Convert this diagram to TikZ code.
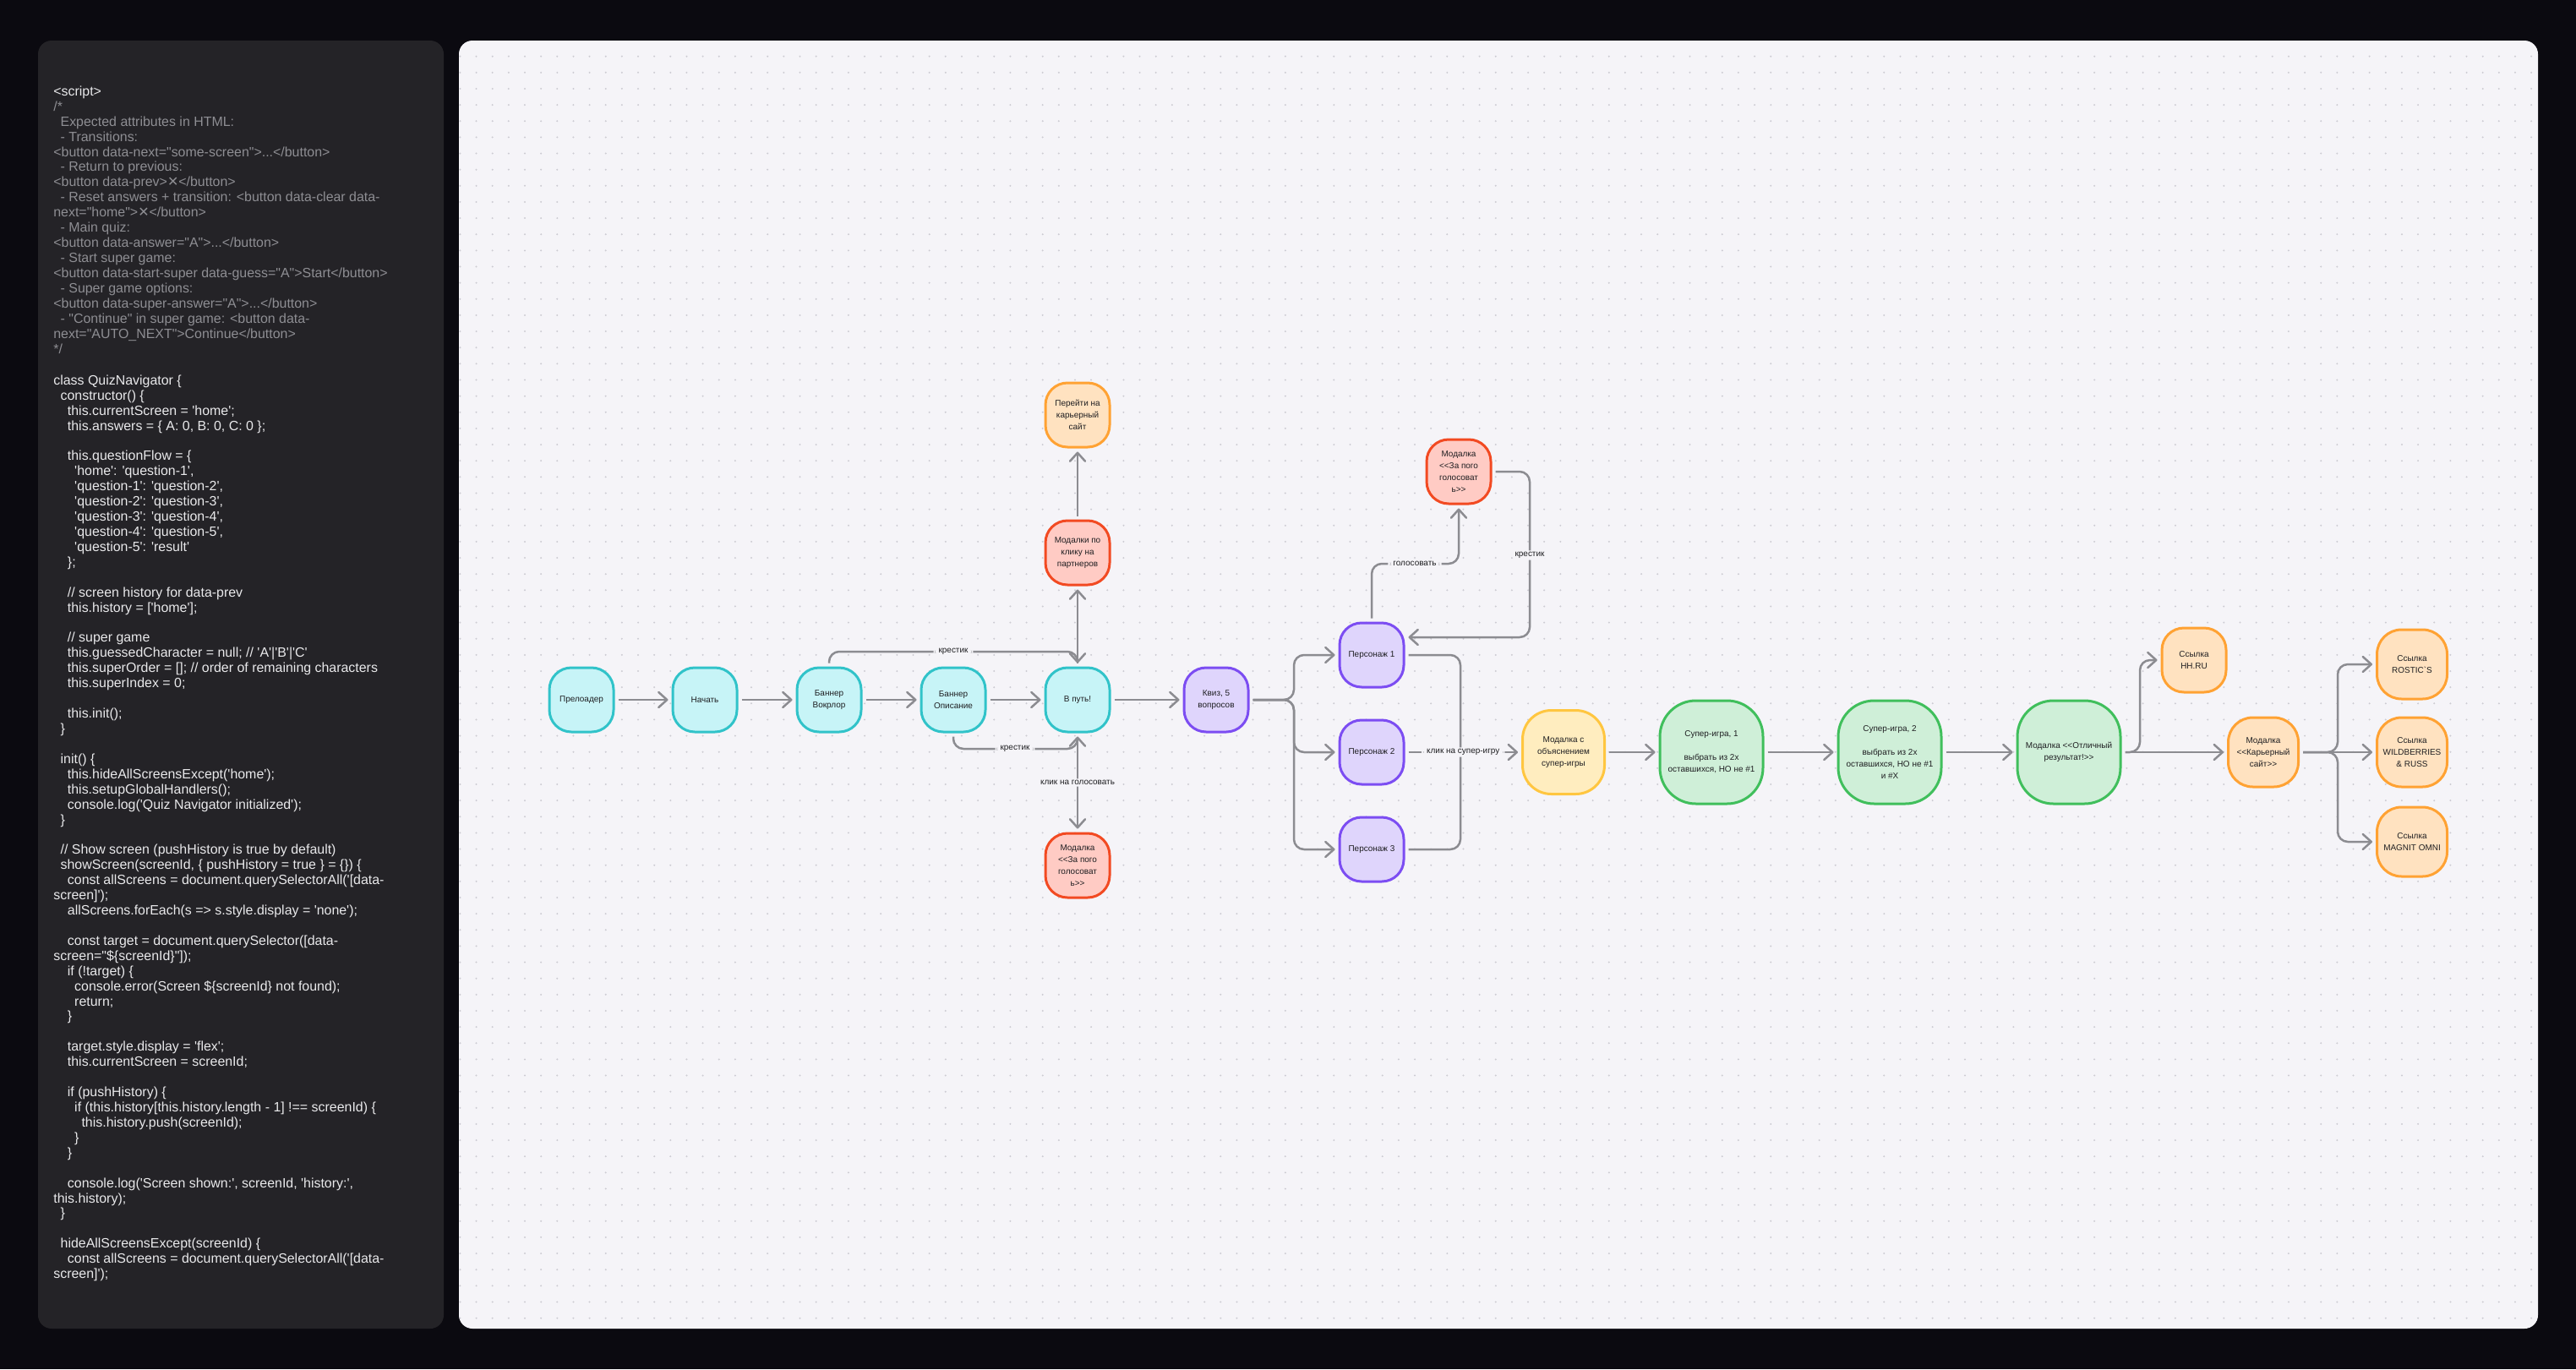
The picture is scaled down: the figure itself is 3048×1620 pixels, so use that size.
\documentclass[tikz,border=0pt]{standalone}
\usepackage{fontspec}
\setmainfont{Liberation Sans}[Ligatures=TeXOff]
\newfontfamily\crossfont{DejaVu Sans}
\usetikzlibrary{arrows.meta}

\definecolor{bgdark}{HTML}{0B0A10}
\definecolor{panel}{HTML}{242327}
\definecolor{canvas}{HTML}{F5F4F8}
\definecolor{griddot}{HTML}{CDCCD3}
\definecolor{codewhite}{HTML}{E9E9EB}
\definecolor{codegrey}{HTML}{8E8E93}
\definecolor{ink}{HTML}{1F1F22}
\definecolor{linegray}{HTML}{8C8C91}
\definecolor{cyanfill}{HTML}{C7F4F7}
\definecolor{cyanline}{HTML}{31C3C9}
\definecolor{redfill}{HTML}{FFCBC4}
\definecolor{redline}{HTML}{F24A22}
\definecolor{orangefill}{HTML}{FFE2C0}
\definecolor{orangeline}{HTML}{FFA233}
\definecolor{purplefill}{HTML}{DFD5FC}
\definecolor{purpleline}{HTML}{7C4DF2}
\definecolor{yellowfill}{HTML}{FFEDBF}
\definecolor{yellowline}{HTML}{FFC640}
\definecolor{greenfill}{HTML}{CFEFD8}
\definecolor{greenline}{HTML}{40BF5C}

\newcommand\nodefont{\fontsize{5.67pt}{7.94pt}\selectfont}
\newcommand\codefont{\fontsize{9.07pt}{10.2pt}\selectfont}
\newlength\indw
\setlength\indw{0.166cm}
\newcommand\ind[1]{\hspace*{#1\indw}}
\newcommand\xmark{{\crossfont ✕}}

\tikzset{
    screen/.style={
        rectangle, rounded corners=0.52cm,
        minimum width=1.52cm, minimum height=1.52cm,
        line width=0.06cm, align=center, text=ink,
        font=\nodefont, inner sep=0.04cm
    },
    cyanbox/.style={screen, draw=cyanline, fill=cyanfill},
    redbox/.style={screen, draw=redline, fill=redfill},
    orangebox/.style={screen, draw=orangeline, fill=orangefill},
    purplebox/.style={screen, draw=purpleline, fill=purplefill},
    yellowbox/.style={screen, draw=yellowline, fill=yellowfill},
    greenbox/.style={screen, draw=greenline, fill=greenfill},
    midbox/.style={minimum width=1.94cm, minimum height=1.98cm, rounded corners=0.68cm},
    bigbox/.style={minimum width=2.44cm, minimum height=2.44cm, rounded corners=0.85cm},
    linkbox/.style={minimum width=1.66cm, minimum height=1.64cm, rounded corners=0.58cm},
    link/.style={
        draw=linegray, line width=0.05cm, rounded corners=0.24cm,
        -{Straight Barb[length=0.2cm, width=0.36cm, round]},
        shorten >=0.08cm, shorten <=0.08cm
    },
    joint/.style={draw=linegray, line width=0.05cm, rounded corners=0.24cm, shorten <=0.08cm},
    lbl/.style={fill=canvas, text=ink, font=\nodefont, inner xsep=0.12cm, inner ysep=0.04cm},
    codeblock/.style={anchor=north west, inner sep=0pt, align=left, font=\codefont},
    griddots/.style={draw=griddot, line width=0.045cm, line cap=round, dash pattern=on 0pt off 0.383cm}
}

\begin{document}
\begin{tikzpicture}[x=0.02cm, y=-0.02cm]
    \useasboundingbox (0,0) rectangle (3048,1620);
    \fill[bgdark] (0,0) rectangle (3048,1620);

    % Code panel
    \fill[panel, rounded corners=0.32cm] (45,48) rectangle (525,1572);
    \node[codeblock, text=codewhite] (scriptTag) at (63,100.4) {\strut<script>};
    \node[codeblock, text=codegrey] (docComment) at (63,118.4) {\strut/*\\
\ind{1}Expected attributes in HTML:\\
\ind{1}- Transitions:\\
<button data-next="some-screen">...</button>\\
\ind{1}- Return to previous:\\
<button data-prev>\xmark</button>\\
\ind{1}- Reset answers + transition: <button data-clear data-\\
next="home">\xmark</button>\\
\ind{1}- Main quiz:\\
<button data-answer="A">...</button>\\
\ind{1}- Start super game:\\
<button data-start-super data-guess="A">Start</button>\\
\ind{1}- Super game options:\\
<button data-super-answer="A">...</button>\\
\ind{1}- "Continue" in super game: <button data-\\
next="AUTO\_NEXT">Continue</button>\\
{*}/};
    \node[codeblock, text=codewhite] (codeBody) at (63,442.4) {\strut class QuizNavigator \{\\
\ind{1}constructor() \{\\
\ind{2}this.currentScreen = 'home';\\
\ind{2}this.answers = \{ A: 0, B: 0, C: 0 \};\\
\mbox{}\\
\ind{2}this.questionFlow = \{\\
\ind{3}'home': 'question-1',\\
\ind{3}'question-1': 'question-2',\\
\ind{3}'question-2': 'question-3',\\
\ind{3}'question-3': 'question-4',\\
\ind{3}'question-4': 'question-5',\\
\ind{3}'question-5': 'result'\\
\ind{2}\};\\
\mbox{}\\
\ind{2}// screen history for data-prev\\
\ind{2}this.history = ['home'];\\
\mbox{}\\
\ind{2}// super game\\
\ind{2}this.guessedCharacter = null; // 'A'|'B'|'C'\\
\ind{2}this.superOrder = []; // order of remaining characters\\
\ind{2}this.superIndex = 0;\\
\mbox{}\\
\ind{2}this.init();\\
\ind{1}\}\\
\mbox{}\\
\ind{1}init() \{\\
\ind{2}this.hideAllScreensExcept('home');\\
\ind{2}this.setupGlobalHandlers();\\
\ind{2}console.log('Quiz Navigator initialized');\\
\ind{1}\}\\
\mbox{}\\
\ind{1}// Show screen (pushHistory is true by default)\\
\ind{1}showScreen(screenId, \{ pushHistory = true \} = \{\}) \{\\
\ind{2}const allScreens = document.querySelectorAll('[data-\\
screen]');\\
\ind{2}allScreens.forEach(s => s.style.display = 'none');\\
\mbox{}\\
\ind{2}const target = document.querySelector([data-\\
screen="\$\{screenId\}"]);\\
\ind{2}if (!target) \{\\
\ind{3}console.error(Screen \$\{screenId\} not found);\\
\ind{3}return;\\
\ind{2}\}\\
\mbox{}\\
\ind{2}target.style.display = 'flex';\\
\ind{2}this.currentScreen = screenId;\\
\mbox{}\\
\ind{2}if (pushHistory) \{\\
\ind{3}if (this.history[this.history.length - 1] !== screenId) \{\\
\ind{4}this.history.push(screenId);\\
\ind{3}\}\\
\ind{2}\}\\
\mbox{}\\
\ind{2}console.log('Screen shown:', screenId, 'history:',\\
this.history);\\
\ind{1}\}\\
\mbox{}\\
\ind{1}hideAllScreensExcept(screenId) \{\\
\ind{2}const allScreens = document.querySelectorAll('[data-\\
screen]');};

    % Canvas with dot grid
    \fill[canvas, rounded corners=0.32cm] (543,48) rectangle (3003,1572);
    \begin{scope}
        \clip[rounded corners=0.32cm] (543,48) rectangle (3003,1572);
        \foreach \j in {0,...,78}
            \draw[griddots] (544.4,{66.7+19.14*\j}) -- (3003,{66.7+19.14*\j});
    \end{scope}

    % Screens
    \node[cyanbox] (preload) at (688,828) {Прелоадер};
    \node[cyanbox] (begin) at (834,828) {Начать};
    \node[cyanbox] (bannerVok) at (981,828) {Баннер\\Вокрлор};
    \node[cyanbox] (bannerDesc) at (1128,828) {Баннер\\Описание};
    \node[cyanbox] (onway) at (1275,828) {В путь!};
    \node[redbox] (partners) at (1275,654) {Модалки по\\клику на\\партнеров};
    \node[orangebox] (careerGo) at (1275,491) {Перейти на\\карьерный\\сайт};
    \node[redbox] (voteLow) at (1275,1024) {Модалка\\<<За пого\\голосоват\\ь>>};
    \node[purplebox] (quiz) at (1439,828) {Квиз, 5\\вопросов};
    \node[purplebox] (hero1) at (1623,775) {Персонаж 1};
    \node[purplebox] (hero2) at (1623,890) {Персонаж 2};
    \node[purplebox] (hero3) at (1623,1005) {Персонаж 3};
    \node[redbox] (voteHigh) at (1726,558) {Модалка\\<<За пого\\голосоват\\ь>>};
    \node[yellowbox, midbox] (superInfo) at (1850,890) {Модалка с\\объяснением\\супер-игры};
    \node[greenbox, bigbox] (super1) at (2025,890) {Супер-игра, 1\\\mbox{}\\выбрать из 2х\\оставшихся, НО не \#1};
    \node[greenbox, bigbox] (super2) at (2236,890) {Супер-игра, 2\\\mbox{}\\выбрать из 2х\\оставшихся, НО не \#1\\и \#X};
    \node[greenbox, bigbox] (result) at (2448,890) {Модалка <<Отличный\\результат!>>};
    \node[orangebox] (hhru) at (2596,781) {Ссылка\\HH.RU};
    \node[orangebox, linkbox] (careerSite) at (2678,890) {Модалка\\<<Карьерный\\сайт>>};
    \node[orangebox, linkbox] (rostics) at (2854,786) {Ссылка\\ROSTIC`S};
    \node[orangebox, linkbox] (wildb) at (2854,890) {Ссылка\\WILDBERRIES\\\& RUSS};
    \node[orangebox, linkbox] (magnit) at (2854,996) {Ссылка\\MAGNIT OMNI};

    % Bends and forks
    \coordinate (crossTop) at (1128,771);
    \coordinate (crossLow) at (1201,886);
    \coordinate (voteBend) at (1674,667);
    \coordinate (backBend) at (1810,657);
    \coordinate (quizFork) at (1531,828);
    \coordinate (heroJoin) at (1728,890);
    \coordinate (resultFork) at (2532,890);
    \coordinate (siteFork) at (2766,890);

    % Connectors
    \draw[link] (preload) -- (begin);
    \draw[link] (begin) -- (bannerVok);
    \draw[link] (bannerVok) -- (bannerDesc);
    \draw[link] (bannerDesc) -- (onway);
    \draw[link] (onway) -- (quiz);
    \draw[link] (onway) -- (partners);
    \draw[link] (partners) -- (careerGo);
    \draw[link] (onway) -- node[lbl] (voteClick) {клик на голосовать} (voteLow);
    \draw[link] (bannerVok.north) |- (crossTop) node[lbl] (crossTopLbl) {крестик} -| (onway.north);
    \draw[link] (bannerDesc.south) |- (crossLow) node[lbl] (crossLowLbl) {крестик} -| (onway.south);

    \draw[link] (quiz.east) -- (quizFork) |- (hero1.west);
    \draw[link] (quiz.east) -- (quizFork) |- (hero2.west);
    \draw[link] (quiz.east) -- (quizFork) |- (hero3.west);
    \draw[link] (hero1.north) |- (voteBend) node[lbl] (voteLbl) {голосовать} -| (voteHigh.south);
    \draw[link] (voteHigh.east) -| (backBend) node[lbl] (backLbl) {крестик} |- (hero1.28);
    \draw[joint] (hero1.east) -| (heroJoin);
    \draw[joint] (hero3.east) -| (heroJoin);
    \draw[link] (hero2) -- node[lbl] (superClick) {клик на супер-игру} (superInfo);

    \draw[link] (superInfo) -- (super1);
    \draw[link] (super1) -- (super2);
    \draw[link] (super2) -- (result);
    \draw[link] (result.east) -- (resultFork) |- (hhru.west);
    \draw[link] (result) -- (careerSite);
    \draw[link] (careerSite.east) -- (siteFork) |- (rostics.west);
    \draw[link] (careerSite) -- (wildb);
    \draw[link] (careerSite.east) -- (siteFork) |- (magnit.west);
\end{tikzpicture}
\end{document}
